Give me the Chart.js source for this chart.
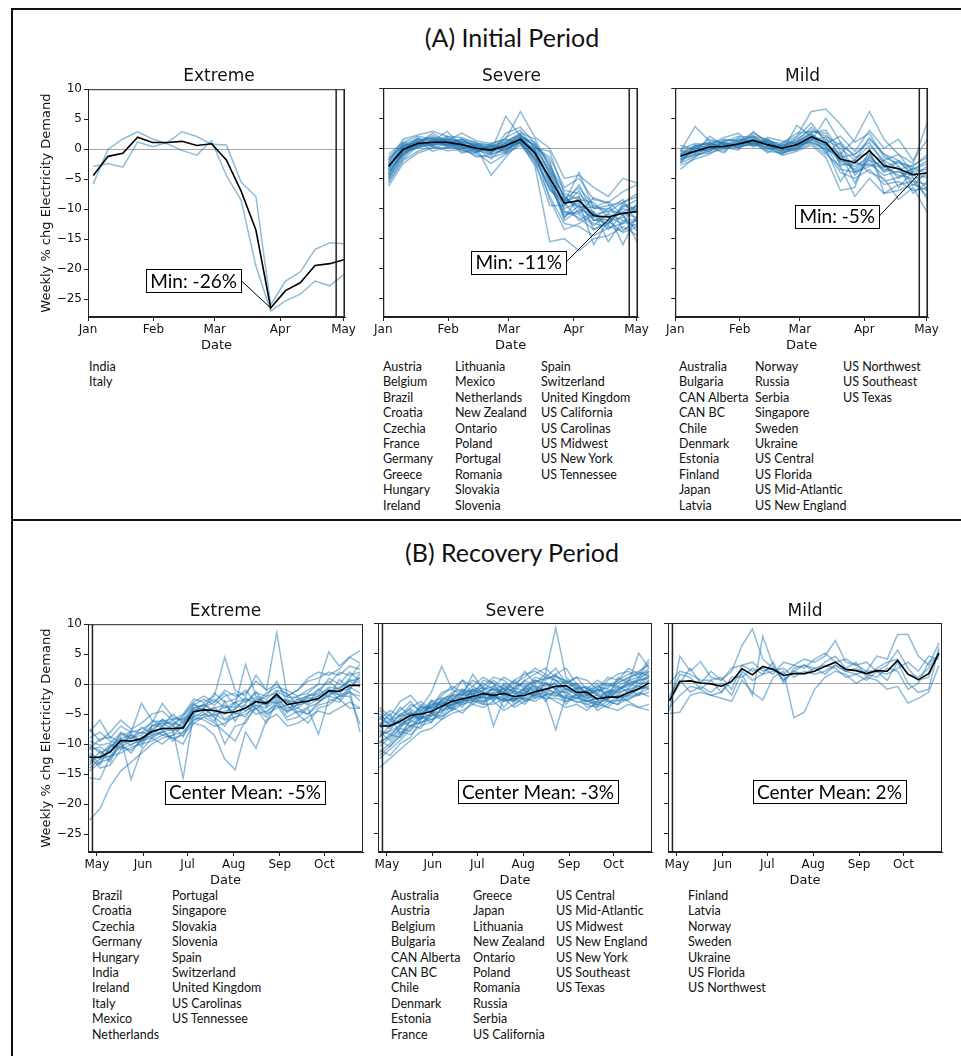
<!DOCTYPE html>
<html>
<head>
<meta charset="utf-8">
<script src="https://cdn.jsdelivr.net/npm/chart.js@4.4.1/dist/chart.umd.min.js"></script>
<style>
  body { margin: 0; background: #fff; }
  #page { position: relative; width: 961px; height: 1056px; overflow: hidden; color: #111; font-family: Lato, "Open Sans", sans-serif; }
  .rule { position: absolute; background: #111; }
  .section { position: absolute; left: 312px; width: 400px; text-align: center; font-size: 25px; line-height: 30px; }
  .ptitle { position: absolute; text-align: center; font-family: "DejaVu Sans", sans-serif; font-size: 17px; line-height: 20px; }
  .col { position: absolute; font-size: 12.5px; line-height: 15.4px; white-space: nowrap; }
  canvas { position: absolute; }
</style>
</head>
<body>
<div id="page">
  <div class="rule" style="left:11px; top:8px; width:950px; height:2px;"></div>
  <div class="rule" style="left:11px; top:8px; width:2px; height:1048px;"></div>
  <div class="rule" style="left:11px; top:519px; width:950px; height:2px;"></div>
  <div class="section" style="top:22px;">(A) Initial Period</div>
  <div class="section" style="top:537px;">(B) Recovery Period</div>
</div>
<script>
// x positions of the weekly points, in days since Jan 1 2020
const weeksA = [2.5, 9.5, 16.5, 23.5, 30.5, 37.5, 44.5, 51.5, 58.5, 65.5, 72.5, 79.5, 86.5, 93.5, 100.5, 107.5, 114.5, 121.5];
const weeksB = [116, 123, 130, 137, 144, 151, 158, 165, 172, 179, 186, 193, 200, 207, 214, 221, 228, 235, 242, 249, 256, 263, 270, 277, 284, 291, 298];

const monthTicksA = [0, 31, 60, 91, 121];
const monthLabelsA = ['Jan', 'Feb', 'Mar', 'Apr', 'May'];
const monthTicksB = [121, 152, 182, 213, 244, 274];
const monthLabelsB = ['May', 'Jun', 'Jul', 'Aug', 'Sep', 'Oct'];
const yTicks = [-25, -20, -15, -10, -5, 0, 5, 10];

// (A) initial period
const extremeAMean = [-4.4, -1.2, -0.7, 2.0, 1.1, 1.1, 1.3, 0.6, 0.9, -1.8, -7.0, -13.5, -26.5, -23.6, -22.3, -19.4, -19.1, -18.4];
const extremeA = [
  [-5.8, 0.0, 1.7, 2.9, 1.7, 0.9, -0.2, -1.0, 1.4, -4.4, -8.5, -19.5, -27.0, -25.3, -24.2, -22.0, -22.8, -20.8],
  [-2.9, -2.4, -3.0, 1.2, 0.4, 1.1, 2.9, 2.1, 0.8, 0.7, -5.5, -7.9, -26.0, -22.0, -20.5, -16.7, -15.6, -15.8]
];

const severeAMean = [-3.0, -0.2, 0.8, 1.0, 1.0, 0.6, 0.0, -0.3, 0.4, 1.5, -0.8, -4.9, -9.1, -8.7, -11.2, -11.4, -10.8, -10.5];
const severeA = [
  [-1.5, 0.8, 1.5, 1.2, 2.0, 0.9, 0.5, 0.3, 1.2, 2.2, 0.2, -1.5, -6.5, -5.0, -8.5, -9.0, -7.2, -6.0],
  [-5.8, -2.0, -0.5, 0.3, -0.4, -0.2, -1.2, -1.5, -0.8, 0.8, -2.5, -8.0, -12.5, -13.0, -14.5, -13.2, -12.5, -12.0],
  [-2.2, 1.5, 2.2, 2.8, 2.0, 1.8, 0.8, 0.5, 1.0, 2.6, 1.5, -3.0, -7.0, -7.5, -10.0, -9.5, -9.0, -8.0],
  [-4.0, -1.0, 0.2, 0.5, 1.5, -0.5, -0.8, -2.5, -1.0, 0.5, -1.8, -6.0, -11.0, -10.5, -12.5, -13.0, -13.8, -11.5],
  [-3.5, 0.5, 1.0, 1.8, 0.5, 1.5, 1.0, -0.5, 5.3, 2.0, 0.5, -4.0, -9.5, -6.0, -11.0, -12.0, -10.5, -9.5],
  [-6.3, -2.5, -0.8, 0.0, 0.8, 0.2, -1.5, -1.0, -0.2, 1.0, -3.0, -15.5, -15.0, -17.0, -15.0, -14.5, -13.0, -14.5],
  [-1.0, 1.0, 2.0, 1.5, 1.2, 2.5, 1.2, 0.8, 1.5, 6.1, 1.8, 0.0, -5.0, -4.5, -6.5, -8.0, -5.0, -5.8],
  [-2.8, -0.8, 0.5, 1.5, 0.5, 0.0, 0.2, -4.5, -1.5, 1.2, -0.5, -5.5, -10.0, -9.0, -16.0, -12.0, -11.5, -10.0],
  [-4.8, -1.5, 1.0, 0.8, 1.8, 0.8, -0.5, 0.0, 0.8, 1.8, -1.0, -7.0, -9.0, -12.0, -10.5, -15.5, -12.0, -13.0],
  [-3.2, 0.2, 1.2, -0.5, 0.2, 1.0, 0.5, -0.8, 2.5, 3.5, 0.8, -2.5, -8.5, -6.5, -9.5, -10.5, -9.0, -7.5],
  [-2.5, 0.0, 0.8, 2.5, 1.0, 0.4, -0.2, 0.5, 0.0, 1.0, -1.2, -4.5, -11.5, -9.5, -12.0, -11.0, -16.0, -11.0],
  [-5.0, -0.5, 0.0, 1.0, 0.8, 0.6, 0.3, -1.2, 0.2, 1.5, -0.2, -3.5, -8.0, -10.0, -11.5, -10.0, -11.0, -15.7],
  [-3.8, -1.2, 1.2, 0.6, 1.2, -0.8, 0.0, 0.2, -0.5, 2.0, -2.0, -6.5, -10.5, -11.5, -13.5, -12.5, -9.5, -10.5],
  [-2.0, 0.6, 0.5, 1.0, 1.5, 1.2, 0.6, 0.0, 0.8, 1.0, 0.0, -0.5, -7.5, -8.5, -9.0, -11.5, -12.5, -9.0],
  [-4.5, -0.3, 1.8, 0.2, 0.0, 0.3, -0.8, 0.8, 1.5, 0.8, -1.5, -5.0, -9.0, -4.0, -10.0, -10.0, -8.5, -12.5],
  [-3.0, 0.3, 0.6, 1.2, 2.8, 0.5, 0.4, -0.3, -0.8, 1.6, 0.6, -4.2, -8.8, -8.0, -12.0, -11.8, -10.0, -10.8],
  [-5.5, -1.8, 0.4, 0.9, 0.6, 1.4, 0.2, -0.7, 0.6, 1.3, -0.4, -8.5, -13.5, -12.5, -11.0, -10.5, -10.8, -11.5],
  [-1.8, 0.4, 1.4, 1.6, 0.3, -0.2, -0.6, 0.1, 0.3, 2.4, -0.9, -3.8, -7.8, -10.8, -8.2, -9.2, -13.5, -12.5],
  [-4.2, -0.6, 0.9, 1.8, 1.4, 0.7, -0.4, -0.9, 1.8, 3.0, -0.2, -5.8, -11.5, -8.0, -13.5, -12.0, -14.0, -13.0],
  [-3.4, -0.9, 1.6, 0.4, 1.1, 1.1, 0.8, 0.6, -0.3, 1.1, -1.5, -6.8, -8.5, -9.5, -10.5, -13.5, -11.0, -9.5],
  [-2.6, 0.9, 0.3, 1.4, 0.2, 0.9, -0.3, -0.4, 0.9, 2.2, 0.3, -2.0, -10.5, -11.0, -12.8, -10.8, -12.0, -11.8],
  [-5.2, -1.1, 0.7, 0.7, 1.7, 0.0, 0.6, -0.2, 0.1, 1.4, -2.2, -9.5, -9.5, -7.0, -11.8, -12.5, -9.8, -8.5],
  [-3.6, 0.1, 1.1, 2.1, 0.9, 1.6, 0.1, -1.8, 0.5, 1.9, 1.0, -3.2, -8.2, -9.8, -9.8, -8.8, -11.2, -13.8],
  [-4.4, -0.4, 0.2, 0.6, 0.7, 0.3, -0.5, 0.4, -0.6, 1.7, -0.6, -5.2, -12.0, -10.2, -10.8, -12.8, -9.2, -10.2]
];

const mildAMean = [-1.3, -0.5, 0.2, 0.3, 0.7, 1.3, 0.6, 0.0, 0.6, 1.9, 0.9, -1.8, -2.4, -0.4, -2.9, -3.4, -4.4, -4.1];
const mildA = [
  [-0.5, 3.6, 1.2, 1.0, 2.0, 1.8, 1.0, 0.5, 1.5, 3.0, 2.0, 0.5, -1.0, 1.5, -1.0, -2.0, -3.5, -2.0],
  [-2.0, -1.0, -0.8, 0.0, 0.2, 1.0, 0.0, -1.0, 0.2, 1.5, -0.5, -4.0, -5.0, -3.5, -6.0, -5.5, -7.0, -6.5],
  [-1.0, 0.0, 0.5, 1.5, 1.2, 2.5, 1.2, 0.8, 2.0, 6.1, 6.5, 4.0, 1.0, 2.5, -1.5, -2.5, -3.0, -1.0],
  [-3.5, -1.5, 0.0, -0.5, 1.0, 0.8, -0.5, -0.8, -0.2, 0.8, -1.0, -3.0, -8.0, -5.0, -7.5, -6.0, -5.5, -8.0],
  [0.5, -0.2, 1.5, 0.8, 0.0, 2.0, 1.5, 0.3, 1.0, 2.5, 0.5, -1.0, 1.5, 6.1, 1.5, -1.0, -2.5, 4.5],
  [-1.8, -1.2, -0.5, 1.2, 1.5, 0.5, 0.2, -0.5, 3.8, 2.0, 1.2, -2.5, -3.0, -1.5, -3.5, -4.0, -4.5, -3.0],
  [-2.5, 0.5, 0.8, 0.2, -0.3, 2.8, 0.8, 0.0, 0.5, 1.0, 0.0, -5.5, -2.0, -4.0, -5.0, -8.5, -6.5, -10.8],
  [-0.8, -0.8, 2.0, 0.5, 0.8, 1.2, -0.3, 0.6, 1.2, 3.5, 1.5, 0.0, -2.0, 0.5, -2.0, -1.0, -4.0, -5.0],
  [-1.5, -0.3, 0.2, -0.8, 1.8, 0.6, 1.5, -0.2, 0.0, 1.2, 5.0, 1.0, -4.5, -2.0, -3.0, -4.5, -5.0, -4.5],
  [-2.8, -1.8, -1.0, 0.6, 0.4, 1.6, 0.4, -1.2, -0.5, 0.5, -1.5, -7.0, -6.5, 0.0, -7.5, -7.0, -6.0, -7.0],
  [-0.2, 0.8, 0.6, 1.8, 2.5, 0.2, 1.8, 1.2, 0.8, 2.2, 0.8, 2.0, -0.5, 3.0, 0.0, 1.5, -2.0, 1.5],
  [-1.2, -0.6, -0.2, 0.3, 0.6, 1.4, 0.9, 0.1, 0.4, 1.8, 0.2, -2.0, -3.5, -1.0, -4.0, -3.0, -7.5, -5.5],
  [-2.2, 0.2, 0.9, -0.2, 0.9, 1.1, -0.8, 0.9, 2.5, 2.8, 2.5, -1.5, -1.0, 1.0, -2.5, -5.0, -3.5, -2.5],
  [-1.6, -0.9, 0.3, 1.0, 0.1, 0.9, 0.6, -0.6, 0.3, 1.4, 0.4, -3.5, -4.0, -2.5, -4.5, -3.8, -5.5, -6.0],
  [-0.6, 0.3, 1.0, 0.7, 1.3, 1.9, 0.3, 0.2, 0.9, 2.4, -0.8, 1.0, -1.5, -0.8, -2.2, -6.5, -3.8, -3.5],
  [-1.9, -0.4, -0.3, 0.9, 0.5, 0.4, 1.1, -0.4, -0.3, 1.6, 1.8, -2.8, -2.5, -2.8, -3.2, -2.0, -4.8, -8.5],
  [-1.0, 0.5, 0.1, 0.6, 1.0, 2.2, 0.4, 0.4, 1.1, 2.6, 3.0, -0.5, -4.0, -3.0, -2.0, -3.5, -2.8, -1.5],
  [-2.4, -1.4, 0.6, 0.4, 0.3, 0.7, 0.8, -0.9, 0.7, 1.0, -0.2, -1.2, -3.8, -1.8, -5.5, -4.8, -3.2, -4.2],
  [-1.4, 0.1, -0.6, 1.4, 1.1, 1.5, 0.0, 0.0, 1.8, 4.2, 1.0, -2.2, -2.0, 1.8, -1.0, -3.0, -6.2, -3.8],
  [-0.4, -0.7, 0.8, 0.1, 0.8, 0.8, 1.3, -0.3, -0.1, 1.9, 0.6, -0.8, -5.8, -1.2, -3.8, -2.2, -4.2, -6.8]
];

// (B) recovery period
const extremeBMean = [-12.2, -12.2, -11.3, -9.4, -9.5, -9.1, -7.9, -7.4, -7.4, -7.3, -4.6, -4.3, -4.4, -4.8, -4.6, -4.0, -2.9, -3.2, -1.7, -3.4, -3.1, -2.8, -2.4, -1.1, -1.2, -0.2, -0.2];
const extremeB = [
  [-22.7, -20.8, -17.0, -14.5, -13.0, -11.5, -10.0, -9.0, -8.5, -8.0, -6.0, -5.5, -5.0, -6.0, -5.5, -4.5, -3.5, -4.0, -2.5, -4.0, -3.5, -3.0, -2.0, -1.5, -0.5, 0.5, 1.0],
  [-15.6, -15.9, -12.0, -10.5, -11.0, -9.5, -8.5, -8.0, -9.0, -10.0, -6.5, -5.5, -6.5, -8.0, -9.5, -6.0, -4.0, -6.5, -3.0, -5.5, -4.5, -5.0, -3.5, -3.0, -2.0, -1.5, -2.0],
  [-7.5, -9.5, -8.0, -6.0, -7.5, -6.5, -5.0, -4.5, -6.0, -5.0, -2.5, -3.0, -2.0, 4.5, -1.0, -2.0, 1.5, -1.0, 8.6, -2.0, -1.0, 0.5, 1.0, 2.0, 1.5, 3.0, 2.5],
  [-10.5, -11.0, -13.0, -9.0, -15.9, -11.0, -9.0, -8.0, -7.5, -15.7, -5.0, -4.0, -5.5, -7.0, -4.0, -3.5, -5.0, -4.5, -3.5, -6.0, -5.5, -4.0, -8.4, -2.5, -3.0, -1.0, -8.0],
  [-12.5, -13.5, -10.5, -8.5, -8.0, -7.5, -6.5, -3.2, -5.5, -6.0, -3.5, -2.5, -3.5, -2.0, -1.5, -3.0, -1.5, -2.0, 0.5, -3.0, -2.0, -1.5, 0.0, 5.4, 3.0, 4.5, 5.6],
  [-14.0, -12.5, -12.0, -11.5, -10.5, -10.0, -9.5, -8.5, -9.0, -8.5, -6.5, -7.0, -8.5, -12.5, -14.3, -8.0, -10.7, -6.0, -5.0, -7.0, -6.5, -5.5, -4.5, -5.0, -4.0, -3.0, -4.0],
  [-9.0, -8.0, -9.5, -10.0, -8.5, -10.5, -7.0, -6.5, -6.5, -7.0, -3.5, -3.8, -3.0, -1.5, -3.5, 3.3, -2.0, -2.5, -1.0, -1.5, -3.5, -2.0, -1.0, 0.5, -1.0, 1.0, 3.3],
  [-11.0, -10.5, -11.5, -8.0, -9.0, -8.0, -8.5, -7.0, -6.0, -7.5, -4.0, -3.5, -4.5, -5.0, -3.0, -4.5, -3.0, -3.5, -2.0, -4.5, -2.5, -3.5, -2.5, -1.0, -2.5, -0.5, -1.5],
  [-13.0, -12.0, -10.0, -10.5, -9.5, -9.0, -7.5, -8.5, -8.0, -6.0, -5.5, -4.5, -4.0, -3.5, -5.0, -4.0, -2.5, -3.0, -2.0, -3.0, -4.0, -2.5, -2.0, -0.5, -0.8, 0.5, -0.5],
  [-8.0, -6.0, -9.0, -7.0, -8.0, -3.2, -6.0, -7.0, -5.0, -6.5, -4.5, -4.0, -1.5, -3.0, -2.5, -1.0, -3.0, -1.5, -0.5, -1.0, -2.0, -1.0, 0.0, 0.0, 2.0, 1.5, 2.0],
  [-12.0, -14.0, -13.5, -11.0, -10.0, -9.5, -9.0, -10.0, -8.5, -7.0, -5.5, -6.0, -7.0, -6.5, -5.5, -5.0, -4.0, -5.5, -3.5, -4.5, -4.0, -5.0, -3.0, -2.0, -2.5, -4.0, -4.0],
  [-11.5, -12.5, -11.0, -9.5, -9.0, -8.5, -7.0, -6.0, -7.0, -5.5, -3.0, -2.0, -3.0, -1.0, -2.0, -1.5, 0.5, -1.0, 0.0, -2.0, -1.0, 1.0, 2.0, 1.5, 2.5, 4.5, 3.5],
  [-14.5, -13.0, -12.5, -10.0, -11.5, -9.0, -8.0, -7.5, -9.5, -8.0, -6.0, -5.0, -5.5, -10.0, -7.0, -6.5, -3.5, -5.0, -4.0, -3.5, -5.0, -6.5, -4.0, -3.5, -2.0, -2.0, -6.7],
  [-10.0, -11.5, -10.5, -9.0, -8.5, -9.5, -7.5, -6.5, -7.5, -6.5, -4.0, -3.5, -2.5, -4.0, -3.0, -2.5, -3.0, -2.0, -1.5, -3.5, -2.5, -2.0, -1.5, 1.0, 0.0, 2.0, 0.5],
  [-10.8, -9.2, -8.8, -9.8, -7.8, -8.2, -6.2, -6.2, -5.8, -5.8, -4.8, -3.2, -4.8, -3.8, -3.8, -2.8, -2.2, -3.2, -2.2, -2.8, -3.0, -1.8, -1.8, -0.8, -1.8, 0.8, 0.2],
  [-13.5, -11.2, -12.2, -9.2, -10.2, -8.8, -8.8, -7.8, -6.8, -8.8, -5.2, -5.2, -3.8, -5.8, -4.8, -5.5, -2.8, -4.8, -2.8, -4.8, -3.2, -2.2, -2.8, -1.8, -1.2, -0.8, 1.2],
  [-9.5, -10.2, -9.8, -8.2, -9.2, -7.2, -8.2, -5.8, -6.8, -5.2, -3.2, -4.8, -6.2, -2.8, -6.2, -3.2, -1.2, -3.8, -1.2, -2.2, -2.2, -3.2, -0.8, -2.2, 0.8, -0.8, 1.8],
  [-11.8, -13.2, -10.2, -10.8, -8.2, -9.8, -6.8, -7.2, -7.8, -7.2, -4.2, -4.2, -5.2, -4.5, -4.2, -2.2, -4.2, -2.8, -3.2, -2.5, -4.8, -3.8, -3.2, -1.2, -1.8, -1.2, -2.8]
];

const severeBMean = [-7.1, -7.1, -6.3, -5.3, -5.1, -4.7, -3.8, -3.0, -2.6, -2.2, -1.7, -2.0, -1.7, -2.2, -2.0, -1.4, -1.0, -0.5, -0.4, -1.5, -1.5, -2.6, -2.3, -2.3, -1.6, -0.9, 0.05];
const severeB = [
  [-4.0, -5.5, -3.0, -2.0, -4.0, -1.5, 2.8, -1.0, 0.5, -0.5, 1.0, 0.0, -1.0, 0.5, 1.5, 2.0, 1.0, 2.5, 0.0, 1.0, -1.0, 0.5, -0.5, 0.5, 1.5, 2.0, 3.0],
  [-14.0, -12.5, -11.0, -9.5, -8.0, -7.5, -6.0, -5.0, -4.5, -3.5, -4.0, -3.0, -4.5, -3.5, -2.5, -3.0, -2.0, -1.5, -2.5, -3.0, -3.5, -4.0, -3.0, -3.5, -2.5, -2.0, -1.5],
  [-10.0, -8.5, -9.0, -7.0, -6.5, -6.0, -5.5, -3.5, -3.0, -1.0, -2.5, -0.5, -1.5, 0.5, -1.0, 1.0, 0.5, 1.5, -0.5, 0.0, -2.0, -1.0, -1.5, 0.0, 1.0, 1.5, 2.0],
  [-6.5, -7.5, -5.0, -6.0, -3.5, -5.0, -2.5, -2.0, 0.5, -2.0, -0.5, -3.0, 0.0, -1.0, 2.0, 0.0, 1.5, 9.2, 1.0, -0.5, -1.5, 0.0, -2.5, 1.0, 0.0, 5.0, 2.5],
  [-8.0, -9.5, -7.5, -5.5, -6.0, -3.0, -4.5, -4.0, -1.5, -3.0, -1.0, -7.1, -2.5, -3.0, -0.5, -2.5, -1.0, -0.5, -3.0, -2.0, -4.0, -3.5, -4.0, -2.5, -2.0, -1.0, -0.5],
  [-11.5, -10.0, -8.0, -8.5, -7.0, -6.5, -4.0, -3.0, -3.5, -2.5, -3.5, -2.0, -3.0, -2.5, -3.5, -1.5, -2.5, -7.7, -2.0, -1.0, -3.0, -2.5, -1.5, -1.0, 0.0, 0.5, 1.0],
  [-5.5, -6.0, -4.5, -3.0, -5.0, -4.0, -2.0, -0.5, -1.5, 0.5, -0.5, 1.0, 0.5, -1.0, 0.5, 1.5, 2.5, 1.0, 0.5, -1.0, -0.5, -1.5, 0.5, 1.5, 2.0, 1.0, 3.5],
  [-9.0, -7.0, -6.5, -4.5, -6.5, -5.5, -3.5, -2.5, -4.0, -1.5, -3.0, -1.5, -4.0, -2.0, -1.0, -0.5, -3.0, -1.0, -1.5, -2.5, -2.0, -4.5, -3.5, -2.0, -1.5, -0.5, -1.0],
  [-7.0, -5.0, -8.5, -6.0, -4.5, -3.5, -3.0, -4.5, -2.0, -0.5, -1.5, -2.5, -1.0, -3.5, -2.0, 0.5, -0.5, 0.0, -2.0, -2.5, -1.0, -2.0, -3.0, -3.5, -1.0, -2.0, 0.5],
  [-12.5, -11.0, -9.5, -7.5, -5.5, -6.0, -5.0, -2.5, -2.5, -3.5, -2.0, -1.0, -2.0, -1.5, -3.0, -2.0, 0.0, -1.0, -3.5, -1.5, -2.5, -1.0, -2.0, -0.5, -1.5, 0.0, 1.5],
  [-5.0, -7.0, -6.0, -4.0, -3.0, -4.5, -3.0, -1.5, -1.0, -2.0, 0.5, 0.0, -2.5, -0.5, 0.0, -1.5, 1.0, 0.5, -1.0, 0.0, -2.0, -0.5, -1.0, -1.5, 0.5, 0.0, 0.0],
  [-8.5, -8.0, -7.0, -6.5, -5.0, -5.5, -4.5, -3.5, -3.0, -2.0, -2.5, -2.0, -3.0, -2.5, -1.5, -1.0, -1.5, -2.0, -2.5, -2.0, -3.0, -2.5, -2.0, -2.5, -2.0, -1.0, -0.5],
  [-6.0, -4.5, -5.5, -5.0, -6.0, -3.5, -3.5, -2.0, -2.5, -1.0, -1.5, -2.5, -0.5, -1.5, 0.5, -0.5, -2.0, 0.5, -1.0, -1.5, -3.5, -3.0, -2.5, -1.0, -0.5, 0.5, 2.0],
  [-9.5, -10.5, -8.5, -7.0, -7.5, -5.0, -5.5, -4.5, -3.5, -3.0, -3.5, -3.5, -2.5, -4.0, -3.0, -2.5, -2.0, -3.0, -4.0, -3.5, -4.5, -3.0, -4.0, -4.5, -3.5, -4.0, -4.5],
  [-7.5, -6.5, -4.0, -5.5, -4.0, -4.0, -1.5, -1.0, -2.0, 1.5, -1.0, -0.5, 1.0, 0.0, 1.0, 2.5, 1.5, 0.5, 0.0, 1.0, 0.5, -1.0, 1.0, 0.5, 2.5, 1.5, 4.0],
  [-10.5, -9.0, -7.5, -8.0, -5.5, -6.5, -4.0, -3.5, -2.5, -2.5, -2.0, -1.5, -1.5, -2.5, -2.5, -1.5, -1.0, -1.5, -1.5, -1.0, -2.5, -2.0, -1.5, -1.5, -1.0, -0.5, 0.5],
  [-4.5, -6.0, -5.5, -3.5, -4.5, -3.0, -2.5, -3.0, -1.0, -1.5, 0.0, -1.0, -1.5, 0.0, -0.5, 0.5, 0.0, -1.0, 0.5, -0.5, -1.5, -0.5, 0.0, -0.5, 0.5, 1.0, 2.5],
  [-11.0, -12.0, -10.0, -9.0, -6.0, -5.0, -6.0, -4.0, -5.0, -3.0, -3.0, -2.0, -2.5, -3.0, -1.5, -2.0, -2.5, -2.5, -3.0, -2.5, -3.0, -3.5, -2.5, -2.0, -3.0, -4.0, -3.5],
  [-9.8, -8.8, -6.8, -6.0, -4.0, -4.2, -2.8, -2.2, -1.8, -1.0, -0.8, -1.2, -0.2, -1.8, -0.8, 0.2, 0.8, 1.2, 0.2, -0.8, -1.8, -1.2, -0.8, 0.2, 0.8, 1.8, 1.2],
  [-7.8, -8.5, -7.2, -4.8, -5.8, -5.2, -2.8, -3.8, -2.8, -2.8, -2.2, -2.8, -2.0, -2.8, -2.2, -1.2, -0.8, -1.8, -2.2, -3.2, -2.8, -3.2, -2.8, -3.0, -2.2, -1.8, -0.8],
  [-6.8, -6.2, -6.8, -5.8, -4.8, -3.8, -4.2, -1.8, -2.0, -1.8, -1.2, 0.5, -1.0, -1.2, -1.8, -0.2, -1.5, 1.5, 2.5, -0.2, -0.8, -1.8, -2.8, -1.2, -0.2, -0.5, 1.2],
  [-12.0, -10.5, -8.8, -6.2, -6.8, -4.8, -4.8, -3.2, -3.2, -2.2, -3.2, -2.2, -2.8, -1.2, -2.8, -1.8, -1.8, -2.2, -0.8, -2.0, -1.8, -2.8, -1.2, -2.8, -2.8, -1.5, -2.2],
  [-8.8, -7.8, -5.8, -7.2, -5.2, -4.5, -3.2, -4.2, -3.2, -1.2, -1.8, -1.8, -0.8, -2.8, -1.2, -2.2, 0.2, -0.8, -0.5, -1.8, -1.2, -3.8, -1.8, -1.8, -0.8, 0.5, 0.8],
  [-5.8, -6.8, -5.2, -4.2, -5.5, -2.8, -3.8, -2.8, -1.2, -2.8, -1.8, -0.8, -1.8, -0.8, -1.2, -0.8, -0.2, -0.2, -1.2, -0.8, -0.8, -1.8, -0.2, -0.8, -0.2, 0.8, 1.8]
];

const mildBMean = [-2.9, 0.3, 0.4, 0.05, -0.1, -0.5, 0.3, 2.4, 1.4, 2.8, 2.3, 1.3, 1.6, 1.6, 2.0, 2.8, 3.5, 2.3, 2.1, 1.6, 2.1, 2.0, 3.8, 1.5, 0.6, 1.6, 5.0];
const mildB = [
  [-5.0, -4.8, -2.0, -1.5, -2.0, -2.5, -3.0, 0.5, -1.5, -2.8, 1.0, 2.0, -5.7, -4.8, -1.0, 1.0, 2.0, 1.5, 0.0, 1.0, 0.5, -1.0, -0.5, -3.3, -2.5, -1.5, 3.0],
  [-4.6, 4.5, 2.0, 3.6, 1.0, 0.5, 2.0, 6.3, 9.0, 4.0, 2.5, 1.5, 3.0, 4.0, 3.5, 4.5, 7.1, 3.5, 3.0, 2.0, 4.5, 4.0, 8.1, 8.1, 4.5, 3.0, 6.7],
  [-2.5, 1.5, 1.0, -1.0, -2.0, -1.5, 0.5, 1.5, -2.0, 7.8, 3.0, 0.5, 2.0, 1.5, 2.5, 3.0, 2.5, 1.0, 1.5, 0.5, 2.0, 0.5, 3.5, 0.0, -1.5, -1.0, 6.0],
  [0.0, 2.0, 1.5, 0.5, 0.5, 1.0, -1.0, 3.0, 2.0, 2.5, 1.5, 3.5, 3.0, 2.5, 4.0, 5.0, 3.5, 4.0, 3.0, 3.5, 2.0, 3.0, 5.5, 2.5, 0.5, 1.0, 5.5],
  [-4.0, -2.0, -0.5, -1.0, 0.5, -1.5, 1.0, 1.0, 2.5, 1.5, 2.0, 2.5, 1.0, 2.0, 1.5, 2.0, 3.0, 2.0, 2.5, 1.5, 1.0, 2.5, 2.0, -1.0, 0.0, 3.5, 4.5],
  [-2.0, 0.5, -1.5, -0.5, -1.5, 0.0, -2.0, 2.0, 0.5, 1.5, 3.5, 0.0, 2.5, 3.0, 2.0, 3.5, 4.5, 2.5, 3.5, 1.0, 2.5, 3.5, 4.0, 1.5, 1.0, 2.5, 5.0],
  [-3.0, 0.0, 2.5, 0.0, 2.0, 0.5, 2.5, 3.0, 3.5, 2.0, 2.5, 0.5, 2.0, 3.0, 2.5, 1.5, 3.0, 2.0, 1.5, 2.0, 2.0, 1.5, 2.5, 3.5, 2.0, 4.5, 4.0]
];

// country lists under each panel
const listsA = [
  { left: 89, cols: [['India', 'Italy']] },
  { left: 383, gap: [0, 72, 158], cols: [
    ['Austria', 'Belgium', 'Brazil', 'Croatia', 'Czechia', 'France', 'Germany', 'Greece', 'Hungary', 'Ireland'],
    ['Lithuania', 'Mexico', 'Netherlands', 'New Zealand', 'Ontario', 'Poland', 'Portugal', 'Romania', 'Slovakia', 'Slovenia'],
    ['Spain', 'Switzerland', 'United Kingdom', 'US California', 'US Carolinas', 'US Midwest', 'US New York', 'US Tennessee']] },
  { left: 679, gap: [0, 76, 164], cols: [
    ['Australia', 'Bulgaria', 'CAN Alberta', 'CAN BC', 'Chile', 'Denmark', 'Estonia', 'Finland', 'Japan', 'Latvia'],
    ['Norway', 'Russia', 'Serbia', 'Singapore', 'Sweden', 'Ukraine', 'US Central', 'US Florida', 'US Mid-Atlantic', 'US New England'],
    ['US Northwest', 'US Southeast', 'US Texas']] }
];
const listsB = [
  { left: 92, gap: [0, 80], cols: [
    ['Brazil', 'Croatia', 'Czechia', 'Germany', 'Hungary', 'India', 'Ireland', 'Italy', 'Mexico', 'Netherlands'],
    ['Portugal', 'Singapore', 'Slovakia', 'Slovenia', 'Spain', 'Switzerland', 'United Kingdom', 'US Carolinas', 'US Tennessee']] },
  { left: 391, gap: [0, 82, 165], cols: [
    ['Australia', 'Austria', 'Belgium', 'Bulgaria', 'CAN Alberta', 'CAN BC', 'Chile', 'Denmark', 'Estonia', 'France'],
    ['Greece', 'Japan', 'Lithuania', 'New Zealand', 'Ontario', 'Poland', 'Romania', 'Russia', 'Serbia', 'US California'],
    ['US Central', 'US Mid-Atlantic', 'US Midwest', 'US New England', 'US New York', 'US Southeast', 'US Texas']] },
  { left: 688, cols: [['Finland', 'Latvia', 'Norway', 'Sweden', 'Ukraine', 'US Florida', 'US Northwest']] }
];

const page = document.getElementById('page');

function addLists(lists, top) {
  lists.forEach(l => {
    l.cols.forEach((names, i) => {
      const d = document.createElement('div');
      d.className = 'col';
      d.style.left = (l.left + (l.gap ? l.gap[i] : 0)) + 'px';
      d.style.top = top + 'px';
      d.innerHTML = names.join('<br>');
      page.appendChild(d);
    });
  });
}
addLists(listsA, 359);
addLists(listsB, 888);

Chart.defaults.font.family = 'DejaVu Sans';
Chart.defaults.color = '#111';

const panelDecor = {
  id: 'panelDecor',
  beforeDatasetsDraw(chart) {
    const { ctx, chartArea: a, scales: { y } } = chart;
    const y0 = Math.round(y.getPixelForValue(0)) + 0.5;
    ctx.save();
    ctx.strokeStyle = 'rgba(0,0,0,0.35)';
    ctx.lineWidth = 1;
    ctx.beginPath();
    ctx.moveTo(a.left, y0);
    ctx.lineTo(a.right, y0);
    ctx.stroke();
    ctx.restore();
  },
  afterDatasetsDraw(chart, args, opts) {
    const { ctx, chartArea: a, scales: { x, y } } = chart;
    ctx.save();
    ctx.strokeStyle = '#222';
    ctx.lineWidth = 1.5;
    opts.vlines.forEach(v => {
      const px = x.getPixelForValue(v);
      ctx.beginPath();
      ctx.moveTo(px, a.top);
      ctx.lineTo(px, a.bottom);
      ctx.stroke();
    });
    ctx.lineWidth = 1;
    ctx.strokeRect(a.left + 0.5, a.top + 0.5, a.right - a.left - 1, a.bottom - a.top - 1);

    const n = opts.note;
    ctx.font = '19px Lato';
    const tw = ctx.measureText(n.text).width;
    const cx = x.getPixelForValue(n.x), cy = y.getPixelForValue(n.y);
    const bw = tw + 8, bh = 23;
    ctx.strokeStyle = '#000';
    if (n.toX !== undefined) {
      ctx.beginPath();
      ctx.moveTo(cx + bw / 2, cy);
      ctx.lineTo(x.getPixelForValue(n.toX), y.getPixelForValue(n.toY));
      ctx.stroke();
    }
    ctx.fillStyle = '#fff';
    ctx.fillRect(cx - bw / 2, cy - bh / 2, bw, bh);
    ctx.strokeRect(Math.round(cx - bw / 2) + 0.5, Math.round(cy - bh / 2) + 0.5, Math.round(bw), bh);
    ctx.fillStyle = '#000';
    ctx.textAlign = 'center';
    ctx.textBaseline = 'middle';
    ctx.fillText(n.text, cx, cy + 1);
    ctx.restore();
  }
};

const T = 8, R = 8, B = 42;

function makePanel(p) {
  const L = p.yTitle ? 58 : 8;
  const cv = document.createElement('canvas');
  cv.width = p.w + L + R;
  cv.height = p.h + T + B;
  cv.style.left = (p.left - L) + 'px';
  cv.style.top = (p.top - T) + 'px';
  page.appendChild(cv);

  const t = document.createElement('div');
  t.className = 'ptitle';
  t.style.left = p.left + 'px';
  t.style.width = p.w + 'px';
  t.style.top = (p.top - 23) + 'px';
  t.textContent = p.title;
  page.appendChild(t);

  const datasets = [{
    data: p.weeks.map((d, i) => ({ x: d, y: p.mean[i] })),
    borderColor: '#000', borderWidth: 1.6, pointRadius: 0, tension: 0
  }];
  p.lines.forEach(vals => {
    datasets.push({
      data: p.weeks.map((d, i) => ({ x: d, y: vals[i] })),
      borderColor: 'rgba(31,119,180,0.5)', borderWidth: 1.5, pointRadius: 0, tension: 0
    });
  });

  new Chart(cv, {
    type: 'line',
    data: { datasets },
    options: {
      responsive: false,
      animation: false,
      devicePixelRatio: 1,
      layout: { padding: { left: 0, top: T, right: R, bottom: 0 } },
      scales: {
        x: {
          type: 'linear', min: p.xr[0], max: p.xr[1],
          afterFit: s => { s.height = B; },
          afterBuildTicks: s => { s.ticks = p.mt.map(v => ({ value: v })); },
          grid: { display: true, drawOnChartArea: false, drawTicks: true, tickLength: 4, color: '#222' },
          border: { display: true, color: '#222' },
          ticks: { autoSkip: false, maxRotation: 0, padding: 2, font: { size: 12 }, color: '#111',
            callback: (v, i) => p.ml[i] },
          title: { display: true, text: 'Date', font: { size: 13 }, color: '#111', padding: { top: 0, bottom: 6 } }
        },
        y: {
          min: -28, max: 10,
          afterFit: s => { s.width = L; },
          afterBuildTicks: s => { s.ticks = yTicks.map(v => ({ value: v })); },
          grid: { display: true, drawOnChartArea: false, drawTicks: true, tickLength: 4, color: '#222' },
          border: { display: true, color: '#222' },
          ticks: { display: p.yTitle, padding: 2, font: { size: 12 }, color: '#111',
            callback: v => v < 0 ? '\u2212' + Math.abs(v) : String(v) },
          title: { display: p.yTitle, text: 'Weekly % chg Electricity Demand', font: { size: 13 }, color: '#111',
            padding: { top: 9, bottom: 0 } }
        }
      },
      plugins: {
        legend: { display: false },
        tooltip: { enabled: false },
        panelDecor: { vlines: p.vlines, note: p.note }
      }
    },
    plugins: [panelDecor]
  });
}

const xrA = [0, 121.7], xrB = [115, 300];
const panels = [
  { title: 'Extreme', left: 88, top: 88, w: 262, h: 229, yTitle: true, xr: xrA, mt: monthTicksA, ml: monthLabelsA,
    weeks: weeksA, lines: extremeA, mean: extremeAMean, vlines: [117.5, 121.3],
    note: { text: 'Min: -26%', x: 50, y: -21.9, toX: 86.5, toY: -26.5 } },
  { title: 'Severe', left: 380, top: 88, w: 263, h: 229, yTitle: false, xr: xrA, mt: monthTicksA, ml: monthLabelsA,
    weeks: weeksA, lines: severeA, mean: severeAMean, vlines: [117.5, 121.3],
    note: { text: 'Min: -11%', x: 64.7, y: -18.9, toX: 109, toY: -11.3 } },
  { title: 'Mild', left: 672, top: 88, w: 261, h: 229, yTitle: false, xr: xrA, mt: monthTicksA, ml: monthLabelsA,
    weeks: weeksA, lines: mildA, mean: mildAMean, vlines: [117.5, 121.3],
    note: { text: 'Min: -5%', x: 78, y: -11.3, toX: 117, toY: -4.4 } },
  { title: 'Extreme', left: 88, top: 623, w: 275, h: 229, yTitle: true, xr: xrB, mt: monthTicksB, ml: monthLabelsB,
    weeks: weeksB, lines: extremeB, mean: extremeBMean, vlines: [118],
    note: { text: 'Center Mean: -5%', x: 220.6, y: -18 } },
  { title: 'Severe', left: 378, top: 623, w: 274, h: 229, yTitle: false, xr: xrB, mt: monthTicksB, ml: monthLabelsB,
    weeks: weeksB, lines: severeB, mean: severeBMean, vlines: [118],
    note: { text: 'Center Mean: -3%', x: 223, y: -18 } },
  { title: 'Mild', left: 668, top: 623, w: 274, h: 229, yTitle: false, xr: xrB, mt: monthTicksB, ml: monthLabelsB,
    weeks: weeksB, lines: mildB, mean: mildBMean, vlines: [118],
    note: { text: 'Center Mean: 2%', x: 224, y: -18 } }
];
panels.forEach(makePanel);
</script>
</body>
</html>
